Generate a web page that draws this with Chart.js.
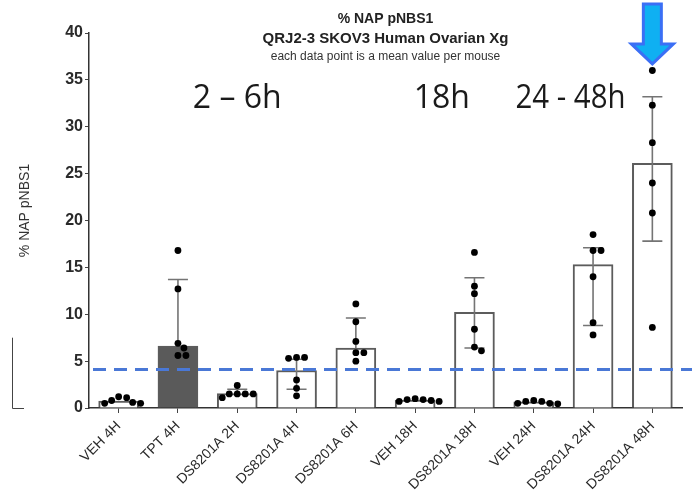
<!DOCTYPE html>
<html><head><meta charset="utf-8">
<script src="https://cdn.jsdelivr.net/npm/chart.js@4.4.1/dist/chart.umd.min.js"></script>
<style>html,body{margin:0;padding:0;background:#fff;}#wrap{width:692px;height:498px;}</style>
</head><body><div id="wrap"><canvas id="c" width="692" height="498"></canvas></div>
<script>
// ---- data ----
const categories = ["VEH 4H","TPT 4H","DS8201A 2H","DS8201A 4H","DS8201A 6H","VEH 18H","DS8201A 18H","VEH 24H","DS8201A 24H","DS8201A 48H"];
const barMeans = [0.75, 6.6, 1.55, 4.0, 6.4, 0.85, 10.2, 0.65, 15.3, 26.1];
const errHigh  = [null, 13.7, 2.0, 5.2, 9.6, null, 13.9, null, 17.1, 33.2];
const errLow   = [null, null, null, 2.0, null, null, 6.4, null, 8.8, 17.8];
const ptsVEH4H  = [1.2, 0.5, 0.8, 1.1, 0.6, 0.5];
const ptsTPT4H  = [16.8, 12.7, 6.9, 6.4, 5.6, 5.6];
const ptsDS2H   = [2.4, 1.5, 1.5, 1.5, 1.1, 1.5];
const ptsDS4H   = [5.4, 5.3, 5.4, 3.0, 2.1, 1.3];
const ptsDS6H   = [11.1, 9.2, 7.1, 5.9, 5.9, 5.0];
const ptsVEH18H = [0.7, 0.9, 1.0, 0.9, 0.7, 0.8];
const ptsDS18H  = [16.6, 13.0, 12.2, 8.4, 6.5, 6.1];
const ptsVEH24H = [0.5, 0.7, 0.8, 0.7, 0.5, 0.45];
const ptsDS24H  = [18.5, 16.8, 16.8, 14.0, 9.1, 7.8];
const ptsDS48H  = [36.0, 32.3, 28.3, 24.0, 20.8, 8.6];
const groupPoints = [ptsVEH4H, ptsTPT4H, ptsDS2H, ptsDS4H, ptsDS6H, ptsVEH18H, ptsDS18H, ptsVEH24H, ptsDS24H, ptsDS48H];
const barFills = ["#ffffff","#5a5a5a","#ffffff","#ffffff","#ffffff","#ffffff","#ffffff","#ffffff","#ffffff","#ffffff"];
const thresholdValue = 4.1;
const yTicks = [0,5,10,15,20,25,30,35,40];
const phaseLabels = ["2 \u2013 6h", "18h", "24 - 48h"];
const phaseAt = [2, 5.45, 7.62];

// ---- beeswarm layout (pixel-based collision avoidance) ----
const PX_PER_CAT = 59.3, PX_PER_UNIT = 9.375, R = 3.4;
const scatterData = [];
groupPoints.forEach((vals, gi) => {
  const placed = [];
  vals.slice().sort((a,b)=>b-a).forEach(v => {
    const py = v * PX_PER_UNIT;
    let dx = 0;
    for (let k = 0; k < 200; k++) {
      const cand = (k % 2 === 1 ? 1 : -1) * Math.ceil(k / 2);
      const ok = placed.every(p => Math.hypot(p.x - cand, p.y - py) >= 2 * R + 0.6);
      if (ok) { dx = cand; break; }
    }
    placed.push({x: dx, y: py});
    scatterData.push({x: gi + dx / PX_PER_CAT, y: v});
  });
});
const barData = barMeans.map((v, i) => ({x: i, y: v}));

const deco = {
  id: 'deco',
  afterDatasetDraw(chart, args) {
    if (args.index !== 0) return;
    const {ctx, scales: {x, y}} = chart;
    ctx.save();
    ctx.strokeStyle = '#747474';
    ctx.lineWidth = 1.6;
    for (let i = 0; i < categories.length; i++) {
      const cx = x.getPixelForValue(i);
      const top = y.getPixelForValue(barMeans[i]);
      const half = 10;
      if (errHigh[i] != null) {
        const hy = y.getPixelForValue(errHigh[i]);
        ctx.beginPath(); ctx.moveTo(cx, top); ctx.lineTo(cx, hy);
        ctx.moveTo(cx - half, hy); ctx.lineTo(cx + half, hy); ctx.stroke();
      }
      if (errLow[i] != null) {
        const ly = y.getPixelForValue(errLow[i]);
        ctx.beginPath(); ctx.moveTo(cx, top); ctx.lineTo(cx, ly);
        ctx.moveTo(cx - half, ly); ctx.lineTo(cx + half, ly); ctx.stroke();
      }
    }
    ctx.restore();
  },
  afterDraw(chart) {
    const {ctx, chartArea: ca, scales: {x, y}} = chart;
    ctx.save();
    // threshold dashed line
    const ty = y.getPixelForValue(thresholdValue);
    ctx.strokeStyle = '#4a78d6';
    ctx.lineWidth = 3;
    ctx.setLineDash([13, 8]);
    ctx.beginPath(); ctx.moveTo(ca.left + 4, ty); ctx.lineTo(chart.width, ty); ctx.stroke();
    ctx.setLineDash([]);
    // titles
    const cx = (ca.left + ca.right) / 2;
    ctx.fillStyle = '#222';
    ctx.textAlign = 'center';
    ctx.textBaseline = 'alphabetic';
    ctx.font = 'bold 14px "Liberation Sans", Arial, sans-serif';
    ctx.fillText('% NAP pNBS1', cx, 23);
    ctx.font = 'bold 15px "Liberation Sans", Arial, sans-serif';
    ctx.fillText('QRJ2-3 SKOV3 Human Ovarian Xg', cx, 43);
    ctx.fillStyle = '#333';
    ctx.font = '12px "Liberation Sans", Arial, sans-serif';
    ctx.fillText('each data point is a mean value per mouse', cx, 60);
    // phase labels
    ctx.fillStyle = '#1a1a1a';
    ctx.font = '32px "Open Sans", sans-serif';
    phaseLabels.forEach((t, i) => ctx.fillText(t, x.getPixelForValue(phaseAt[i]), y.getPixelForValue(32), i === 2 ? 110 : undefined));
    // y axis title
    ctx.save();
    ctx.translate(25, (y.getPixelForValue(40) + y.getPixelForValue(0)) / 2 - 10);
    ctx.rotate(-Math.PI / 2);
    ctx.fillStyle = '#333';
    ctx.font = '14px "Liberation Sans", Arial, sans-serif';
    ctx.textBaseline = 'middle';
    ctx.fillText('% NAP pNBS1', 0, 0);
    ctx.restore();
    // left bracket
    ctx.strokeStyle = '#444';
    ctx.lineWidth = 1;
    const by0 = y.getPixelForValue(0) + 0.5, by1 = y.getPixelForValue(7.5);
    ctx.beginPath(); ctx.moveTo(12.5, by1); ctx.lineTo(12.5, by0); ctx.lineTo(24, by0); ctx.stroke();
    // arrow
    const ax = x.getPixelForValue(9), tipY = y.getPixelForValue(36.7);
    ctx.beginPath();
    ctx.moveTo(ax, tipY);
    ctx.lineTo(ax + 21, tipY - 20);
    ctx.lineTo(ax + 9, tipY - 20);
    ctx.lineTo(ax + 9, 4);
    ctx.lineTo(ax - 9, 4);
    ctx.lineTo(ax - 9, tipY - 20);
    ctx.lineTo(ax - 21, tipY - 20);
    ctx.closePath();
    ctx.fillStyle = '#0fb0f2';
    ctx.fill();
    ctx.strokeStyle = '#3b6ff5';
    ctx.lineWidth = 3;
    ctx.lineJoin = 'miter';
    ctx.stroke();
    ctx.restore();
  }
};

new Chart(document.getElementById('c'), {
  type: 'bar',
  data: {
    datasets: [
      { type: 'bar', data: barData, backgroundColor: barFills, borderColor: '#5c5c5c', borderWidth: 2,
        barThickness: 40, grouped: false, order: 2 },
      { type: 'scatter', data: scatterData, pointRadius: R, pointBackgroundColor: '#000', pointBorderWidth: 0,
        showLine: false, order: 1 }
    ]
  },
  options: {
    responsive: false, animation: false,
    layout: { padding: { top: 33, right: 10, left: 0, bottom: 0 } },
    plugins: { legend: { display: false }, tooltip: { enabled: false }, title: { display: false } },
    scales: {
      x: {
        type: 'linear', offset: false, min: -0.5, max: 9.5,
        afterBuildTicks: s => { s.ticks = categories.map((c, i) => ({ value: i })); },
        grid: { display: true, drawOnChartArea: false, offset: false, color: '#444', tickLength: 5 },
        border: { display: true, color: '#333', width: 1.5 },
        ticks: { color: '#2a2a2a', autoSkip: false, callback: v => categories[v],
          font: { family: '"Liberation Sans", Arial, sans-serif', size: 14 }, minRotation: 45, maxRotation: 45, padding: 5 },
        afterFit: s => { s.height = 90; }
      },
      y: {
        type: 'linear', min: 0, max: 40,
        afterBuildTicks: s => { s.ticks = yTicks.map(v => ({ value: v })); },
        grid: { display: true, drawOnChartArea: false, color: '#444', tickLength: 4 },
        border: { display: true, color: '#333', width: 1.5 },
        ticks: { color: '#2a2a2a', font: { family: '"Liberation Sans", Arial, sans-serif', size: 16, weight: 'bold' }, padding: 2 },
        afterFit: s => { s.width = 89; }
      }
    }
  },
  plugins: [deco]
});
</script>
</body></html>
